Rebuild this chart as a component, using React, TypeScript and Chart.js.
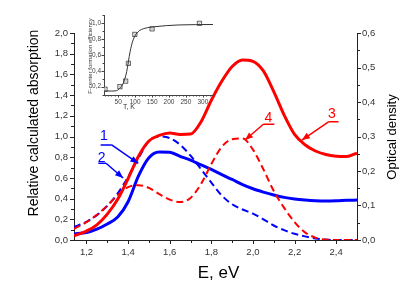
import React, { useEffect, useRef } from 'react';
import { Chart, registerables } from 'chart.js';

Chart.register(...registerables);

const FONT = '"Liberation Sans", Arial, Helvetica, sans-serif';

// Photon energy grid (eV) shared by the four curves
const energy = [1.14, 1.2, 1.25, 1.3, 1.35, 1.4, 1.45, 1.5, 1.55, 1.6, 1.65, 1.7, 1.75, 1.8, 1.85, 1.9, 1.95, 2.0, 2.05, 2.1, 2.15, 2.2, 2.25, 2.3, 2.35, 2.4, 2.45, 2.5];

// Curve 1 (blue solid) – relative calculated absorption
const curve1 = [0.058, 0.072, 0.105, 0.155, 0.222, 0.37, 0.62, 0.795, 0.85, 0.848, 0.808, 0.772, 0.725, 0.682, 0.632, 0.585, 0.535, 0.495, 0.463, 0.435, 0.412, 0.397, 0.387, 0.38, 0.377, 0.379, 0.383, 0.386];
// Curve 2 (blue dashed) – relative calculated absorption
const curve2 = [0.125, 0.176, 0.24, 0.33, 0.45, 0.61, 0.79, 0.955, 1.0, 0.985, 0.92, 0.815, 0.685, 0.555, 0.43, 0.345, 0.295, 0.255, 0.2, 0.14, 0.095, 0.06, 0.035, 0.015, 0.004, 0, 0, 0];
// Curve 3 (red solid) – optical density
const curve3 = [0.012, 0.026, 0.044, 0.075, 0.118, 0.178, 0.243, 0.287, 0.303, 0.31, 0.306, 0.307, 0.342, 0.405, 0.46, 0.503, 0.522, 0.518, 0.49, 0.43, 0.362, 0.306, 0.276, 0.258, 0.248, 0.243, 0.242, 0.252];
// Curve 4 (red dashed) – optical density
const curve4 = [0.032, 0.052, 0.073, 0.1, 0.13, 0.153, 0.159, 0.151, 0.133, 0.117, 0.11, 0.122, 0.162, 0.22, 0.27, 0.292, 0.294, 0.262, 0.205, 0.142, 0.093, 0.052, 0.022, 0.007, 0.001, 0, 0, 0];

// Axis ticks
const xMajor = [1.2, 1.4, 1.6, 1.8, 2.0, 2.2, 2.4];
const xMinor = [1.3, 1.5, 1.7, 1.9, 2.1, 2.3];
const yMajor = [0, 0.2, 0.4, 0.6, 0.8, 1.0, 1.2, 1.4, 1.6, 1.8, 2.0];
const yMinor = [0.1, 0.3, 0.5, 0.7, 0.9, 1.1, 1.3, 1.5, 1.7, 1.9];
const y2Major = [0, 0.1, 0.2, 0.3, 0.4, 0.5, 0.6];
const y2Minor = [0.05, 0.15, 0.25, 0.35, 0.45, 0.55];

// Curve labels (data units of left axis)
const annText = ['1', '2', '4', '3'];
const annColor = ['#0000ff', '#0000ff', '#ff0000', '#ff0000'];
const annTextPos = [[1.284, 0.966], [1.273, 0.757], [2.074, 1.143], [2.379, 1.176]];
const annUnderline = [[1.268, 1.321, 0.918], [1.257, 1.294, 0.741], [2.05, 2.103, 1.118], [2.363, 2.411, 1.142]];
const annFromEnd = ['right', 'right', 'left', 'left'];
const annTip = [[1.449, 0.741], [1.376, 0.599], [1.962, 0.966], [2.235, 0.966]];

// Inset: F-centre formation efficiency vs temperature
const insetCurveT = [8, 30, 45, 55, 65, 75, 85, 94, 109, 129, 158, 227, 330];
const insetCurveEff = [0.145, 0.145, 0.15, 0.18, 0.245, 0.39, 0.64, 0.79, 0.894, 0.937, 0.957, 0.979, 0.985];
const insetPtT = [11, 55, 72, 80, 99, 150, 290];
const insetPtEff = [0.168, 0.2, 0.27, 0.495, 0.86, 0.93, 1.0];
const insetXMajor = [50, 100, 150, 200, 250, 300];
const insetXMinor = [10, 20, 30, 40, 60, 70, 80, 90, 110, 120, 130, 140, 160, 170, 180, 190, 210, 220, 230, 240, 260, 270, 280, 290, 310, 320, 330];
const insetYMajor = [0.2, 0.4, 0.6, 0.8, 1.0];
const insetYMinor = [0.1, 0.3, 0.5, 0.7, 0.9, 1.1];

const pts = (xs: number[], ys: number[]) => xs.map((x, i) => ({ x, y: ys[i] }));
const comma = (v: number) => v.toFixed(1).replace('.', ',');

type TickSpec = { id: string; side: 'left' | 'right' | 'bottom'; major: number[]; minor: number[]; majLen: number; minLen: number };

function tickPlugin(specs: TickSpec[], color: string) {
  return {
    id: 'customTicks',
    afterDraw(chart: any) {
      const ctx = chart.ctx;
      const area = chart.chartArea;
      ctx.save();
      ctx.strokeStyle = color;
      ctx.lineWidth = 1;
      ctx.beginPath();
      for (const s of specs) {
        const sc = chart.scales[s.id];
        const draw = (v: number, len: number) => {
          const p = Math.round(sc.getPixelForValue(v)) + 0.5;
          if (s.side === 'bottom') {
            const b = Math.round(area.bottom);
            ctx.moveTo(p, b);
            ctx.lineTo(p, b + len);
          } else if (s.side === 'left') {
            const l = Math.round(area.left);
            ctx.moveTo(l - len, p);
            ctx.lineTo(l, p);
          } else {
            const r = Math.round(area.right);
            ctx.moveTo(r, p);
            ctx.lineTo(r + len, p);
          }
        };
        s.major.forEach((v) => draw(v, s.majLen));
        s.minor.forEach((v) => draw(v, s.minLen));
      }
      ctx.stroke();
      ctx.restore();
    },
  };
}

function MainChart() {
  const ref = useRef<HTMLCanvasElement>(null);
  useEffect(() => {
    const annotate = {
      id: 'annotate',
      afterDraw(chart: any) {
        const ctx = chart.ctx;
        const xs = chart.scales.x;
        const ys = chart.scales.y;
        const X = (v: number) => xs.getPixelForValue(v);
        const Y = (v: number) => ys.getPixelForValue(v);
        ctx.save();
        annText.forEach((t, i) => {
          ctx.fillStyle = annColor[i];
          ctx.strokeStyle = annColor[i];
          ctx.lineWidth = 1.5;
          ctx.font = `14px ${FONT}`;
          ctx.textAlign = 'center';
          ctx.textBaseline = 'alphabetic';
          ctx.fillText(t, X(annTextPos[i][0]), Y(annTextPos[i][1]));
          const [u1, u2, uy] = annUnderline[i];
          const sx = annFromEnd[i] === 'right' ? X(u2) : X(u1);
          const sy = Y(uy);
          const tx = X(annTip[i][0]);
          const ty = Y(annTip[i][1]);
          ctx.beginPath();
          ctx.moveTo(X(u1), sy);
          ctx.lineTo(X(u2), sy);
          ctx.moveTo(sx, sy);
          ctx.lineTo(tx, ty);
          ctx.stroke();
          const ang = Math.atan2(ty - sy, tx - sx);
          const L = 8, W = 3.2;
          ctx.beginPath();
          ctx.moveTo(tx, ty);
          ctx.lineTo(tx - L * Math.cos(ang) + W * Math.sin(ang), ty - L * Math.sin(ang) - W * Math.cos(ang));
          ctx.lineTo(tx - L * Math.cos(ang) - W * Math.sin(ang), ty - L * Math.sin(ang) + W * Math.cos(ang));
          ctx.closePath();
          ctx.fill();
        });
        const area = chart.chartArea;
        ctx.fillStyle = '#000';
        ctx.textAlign = 'center';
        ctx.textBaseline = 'alphabetic';
        ctx.font = `14px ${FONT}`;
        ctx.save();
        ctx.translate(area.left - 36, area.top + 90);
        ctx.rotate(-Math.PI / 2);
        ctx.fillText('Relative calculated absorption', 0, 0);
        ctx.restore();
        ctx.font = `13px ${FONT}`;
        ctx.save();
        ctx.translate(area.right + 39, area.top + 104);
        ctx.rotate(-Math.PI / 2);
        ctx.fillText('Optical density', 0, 0);
        ctx.restore();
        ctx.font = `17px ${FONT}`;
        ctx.fillText('E, eV', (area.left + area.right) / 2 + 3, area.bottom + 38);
        ctx.restore();
      },
    };

    const ticks = tickPlugin(
      [
        { id: 'x', side: 'bottom', major: xMajor, minor: xMinor, majLen: 4, minLen: 3 },
        { id: 'y', side: 'left', major: yMajor, minor: yMinor, majLen: 4, minLen: 3 },
        { id: 'y2', side: 'right', major: y2Major, minor: y2Minor, majLen: 4, minLen: 3 },
      ],
      '#222'
    );

    const tickFont = { family: FONT, size: 9.5 };
    const lineBase = { pointRadius: 0, cubicInterpolationMode: 'monotone', fill: false };
    const chart = new Chart(ref.current!, {
      type: 'line',
      data: {
        datasets: [
          { label: '3', data: pts(energy, curve3), yAxisID: 'y2', borderColor: '#ff0000', borderWidth: 3, ...lineBase },
          { label: '4', data: pts(energy, curve4), yAxisID: 'y2', borderColor: '#ff0000', borderWidth: 2, borderDash: [7, 4], ...lineBase },
          { label: '2', data: pts(energy, curve2), yAxisID: 'y', borderColor: '#0000ff', borderWidth: 2, borderDash: [7, 4], ...lineBase },
          { label: '1', data: pts(energy, curve1), yAxisID: 'y', borderColor: '#0000ff', borderWidth: 3, ...lineBase },
        ],
      },
      options: {
        responsive: false,
        animation: false,
        devicePixelRatio: 1,
        layout: { padding: { top: 33, left: 0, right: 0, bottom: 0 } },
        plugins: { legend: { display: false }, tooltip: { enabled: false } },
        scales: {
          x: {
            type: 'linear',
            min: 1.14,
            max: 2.5,
            afterBuildTicks: (s: any) => { s.ticks = xMajor.map((v) => ({ value: v })); },
            afterFit: (s: any) => { s.height = 49; },
            grid: { display: false, drawTicks: true, tickLength: 4 },
            border: { display: true, color: '#222', width: 1 },
            ticks: { callback: (v: any) => comma(Number(v)), font: tickFont, color: '#333', padding: 3, maxRotation: 0, autoSkip: false },
          },
          y: {
            type: 'linear',
            position: 'left',
            min: 0,
            max: 2.0,
            afterBuildTicks: (s: any) => { s.ticks = yMajor.map((v) => ({ value: v })); },
            afterFit: (s: any) => { s.width = 74; },
            grid: { display: false, drawTicks: true, tickLength: 4 },
            border: { display: true, color: '#222', width: 1 },
            ticks: { callback: (v: any) => comma(Number(v)), font: tickFont, color: '#333', padding: 2, autoSkip: false },
          },
          y2: {
            type: 'linear',
            position: 'right',
            min: 0,
            max: 0.6,
            afterBuildTicks: (s: any) => { s.ticks = y2Major.map((v) => ({ value: v })); },
            afterFit: (s: any) => { s.width = 58; },
            grid: { display: false, drawTicks: true, tickLength: 4 },
            border: { display: true, color: '#222', width: 1 },
            ticks: { callback: (v: any) => comma(Number(v)), font: tickFont, color: '#333', padding: 1, autoSkip: false },
          },
        },
      } as any,
      plugins: [ticks, annotate],
    });
    return () => chart.destroy();
  }, []);
  return <canvas ref={ref} width={415} height={289} style={{ position: 'absolute', left: 0, top: 0, width: 415, height: 289 }} />;
}

function InsetChart() {
  const ref = useRef<HTMLCanvasElement>(null);
  useEffect(() => {
    const titles = {
      id: 'insetTitles',
      afterDraw(chart: any) {
        const ctx = chart.ctx;
        const area = chart.chartArea;
        ctx.save();
        ctx.fillStyle = '#333';
        ctx.textAlign = 'center';
        ctx.textBaseline = 'alphabetic';
        ctx.font = `6px ${FONT}`;
        ctx.save();
        ctx.translate(area.left - 12.5, (area.top + area.bottom) / 2 + 1);
        ctx.rotate(-Math.PI / 2);
        ctx.fillText('F-center formation efficiency', 0, 0);
        ctx.restore();
        ctx.font = `7px ${FONT}`;
        ctx.fillText('T, K', area.left + 25, area.bottom + 13.5);
        ctx.restore();
      },
    };
    const ticks = tickPlugin(
      [
        { id: 'x', side: 'bottom', major: insetXMajor, minor: insetXMinor, majLen: 2.5, minLen: 1.5 },
        { id: 'y', side: 'left', major: insetYMajor, minor: insetYMinor, majLen: 2.5, minLen: 1.5 },
      ],
      '#444'
    );
    const tf = { family: FONT, size: 6.5 };
    const chart = new Chart(ref.current!, {
      type: 'line',
      data: {
        datasets: [
          { data: pts(insetCurveT, insetCurveEff), borderColor: '#333', borderWidth: 1, pointRadius: 0, cubicInterpolationMode: 'monotone', fill: false },
          { data: pts(insetPtT, insetPtEff), showLine: false, pointStyle: 'rect', pointRadius: 3, borderColor: '#444', borderWidth: 0.8, backgroundColor: 'rgba(255,255,255,0.6)' },
          { data: pts(insetPtT, insetPtEff), showLine: false, pointStyle: 'crossRot', pointRadius: 3, borderColor: '#444', borderWidth: 0.8 },
        ],
      },
      options: {
        responsive: false,
        animation: false,
        devicePixelRatio: 1,
        layout: { padding: { top: 13, right: 7, left: 0, bottom: 0 } },
        plugins: { legend: { display: false }, tooltip: { enabled: false } },
        scales: {
          x: {
            type: 'linear',
            min: 8,
            max: 330,
            afterBuildTicks: (s: any) => { s.ticks = insetXMajor.map((v) => ({ value: v })); },
            afterFit: (s: any) => { s.height = 23; },
            grid: { display: false, drawTicks: true, tickLength: 2.5 },
            border: { display: true, color: '#444', width: 1 },
            ticks: { callback: (v: any) => String(v), font: tf, color: '#444', padding: 1, maxRotation: 0, autoSkip: false },
          },
          y: {
            type: 'linear',
            min: 0.095,
            max: 1.105,
            afterBuildTicks: (s: any) => { s.ticks = insetYMajor.map((v) => ({ value: v })); },
            afterFit: (s: any) => { s.width = 24; },
            grid: { display: false, drawTicks: true, tickLength: 2.5 },
            border: { display: true, color: '#444', width: 1 },
            ticks: { callback: (v: any) => comma(Number(v)), font: tf, color: '#444', padding: 0.5, autoSkip: false },
          },
        },
      } as any,
      plugins: [ticks, titles],
    });
    return () => chart.destroy();
  }, []);
  return <canvas ref={ref} width={140} height={116} style={{ position: 'absolute', left: 80, top: 2, width: 140, height: 116 }} />;
}

export default function App() {
  return (
    <div style={{ position: 'absolute', left: 0, top: 0, width: 415, height: 289, background: '#fff' }}>
      <MainChart />
      <InsetChart />
    </div>
  );
}
